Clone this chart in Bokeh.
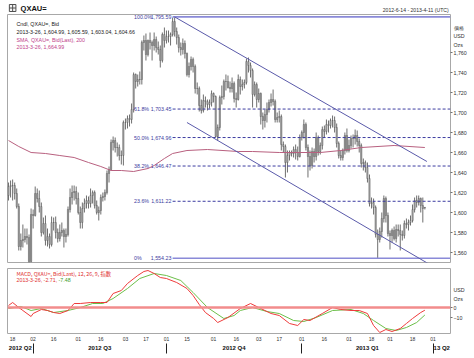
import pandas as pd
from bokeh.plotting import figure
from bokeh.layouts import column
from bokeh.models import (Range1d, FixedTicker, NumeralTickFormatter, Label,
                          Span, LinearAxis, ColumnDataSource)
from bokeh.core.properties import value
from bokeh.embed import file_html
from bokeh.resources import INLINE

FONT = "Liberation Sans"
CJK = "Noto Sans CJK TC"

# ------------------------------------------------------------------ data
first_day, last_day = "2012-06-14", "2013-04-11"

opens = [1617,1626,1627,1627,1619,1606,1566,1572,1573,1576,1575,1551,1598,1597,1619,1614,1606,1580,1589,1572,
         1576,1568,1590,1590,1580,1574,1580,1582,1576,1578,1603,1615,1620,1621,1614,1600,1590,1604,1609,1612,
         1609,1617,1620,1607,1600,1602,1615,1616,1620,1639,1643,1670,1672,1665,1665,1657,1657,1690,1690,1694,
         1693,1703,1738,1731,1733,1733,1770,1772,1758,1772,1770,1767,1773,1765,1763,1752,1778,1772,1776,1776,
         1778,1791,1781,1775,1765,1763,1769,1759,1738,1746,1753,1746,1724,1724,1707,1702,1712,1711,1708,1710,
         1719,1716,1676,1685,1715,1716,1731,1731,1725,1724,1729,1714,1713,1733,1726,1728,1730,1751,1747,1742,
         1718,1728,1713,1719,1696,1692,1698,1703,1710,1713,1711,1693,1695,1696,1668,1666,1650,1657,1660,1659,
         1663,1660,1656,1675,1680,1688,1665,1656,1647,1661,1656,1675,1661,1667,1683,1681,1688,1687,1692,1692,
         1685,1669,1657,1655,1662,1677,1662,1667,1674,1674,1677,1671,1667,1649,1650,1645,1634,1609,1610,1605,
         1578,1573,1581,1594,1614,1597,1579,1577,1582,1574,1583,1582,1578,1577,1589,1588,1590,1592,1603,1612,
         1610,1614,1607,1604.99]
highs = [1630,1632,1633,1630,1624,1609,1579,1588,1584,1584,1578,1604,1603,1626,1624,1622,1610,1595,1597,1584,
         1579,1596,1595,1596,1584,1588,1590,1584,1584,1606,1624,1627,1627,1626,1620,1606,1610,1614,1617,1616,
         1624,1622,1622,1612,1606,1618,1620,1623,1642,1646,1673,1676,1675,1670,1668,1662,1692,1694,1697,1698,
         1709,1740,1739,1738,1741,1772,1777,1779,1773,1780,1772,1780,1776,1771,1767,1780,1785,1782,1782,1780,
         1795,1796,1785,1778,1770,1774,1772,1760,1750,1756,1755,1748,1730,1726,1713,1718,1716,1713,1713,1722,
         1720,1717,1688,1717,1727,1733,1738,1737,1731,1735,1731,1720,1738,1736,1733,1733,1754,1755,1750,1744,
         1731,1730,1724,1720,1700,1703,1710,1713,1719,1723,1713,1700,1702,1698,1671,1668,1662,1662,1662,1666,
         1668,1666,1678,1682,1693,1690,1668,1662,1665,1664,1680,1677,1670,1686,1687,1693,1692,1694,1697,1696,
         1689,1671,1662,1664,1680,1684,1673,1677,1678,1683,1682,1674,1669,1654,1652,1650,1638,1615,1614,1607,
         1583,1585,1600,1617,1616,1600,1582,1584,1586,1588,1588,1588,1582,1592,1594,1593,1597,1608,1615,1617,
         1617,1615,1615,1605.59]
lows = [1612,1615,1612,1613,1604,1562,1562,1565,1570,1568,1548,1550,1584,1596,1610,1600,1576,1578,1567,1566,
        1564,1566,1582,1574,1570,1571,1576,1565,1570,1576,1600,1608,1612,1608,1598,1584,1584,1600,1604,1604,
        1605,1609,1604,1598,1592,1598,1611,1612,1618,1630,1642,1662,1660,1656,1652,1648,1647,1683,1684,1686,
        1689,1700,1724,1726,1728,1728,1762,1752,1756,1763,1752,1762,1760,1758,1745,1750,1765,1769,1770,1767,
        1776,1776,1768,1760,1757,1758,1754,1736,1735,1742,1740,1719,1718,1701,1699,1700,1705,1702,1704,1706,
        1710,1675,1672,1682,1708,1713,1722,1724,1720,1720,1710,1705,1712,1718,1722,1724,1728,1740,1735,1705,
        1716,1705,1710,1688,1683,1685,1690,1700,1706,1707,1690,1690,1690,1662,1660,1635,1640,1652,1656,1655,
        1653,1652,1655,1672,1674,1662,1635,1642,1644,1650,1652,1657,1658,1663,1675,1678,1680,1684,1685,1680,
        1665,1654,1652,1652,1658,1660,1660,1664,1665,1668,1666,1660,1645,1642,1640,1630,1606,1604,1598,1575,
        1554,1570,1575,1590,1590,1576,1563,1570,1572,1570,1576,1562,1572,1574,1584,1582,1587,1590,1600,1605,
        1607,1600,1590,1603.04]
closes = [1626,1627,1627,1619,1606,1566,1572,1573,1576,1575,1551,1598,1597,1619,1614,1606,1580,1589,1572,1576,
          1568,1590,1590,1580,1574,1580,1582,1576,1578,1603,1615,1620,1621,1614,1600,1590,1604,1609,1612,1609,
          1617,1620,1607,1600,1602,1615,1616,1620,1639,1643,1670,1672,1665,1665,1657,1657,1690,1690,1694,1693,
          1703,1738,1731,1733,1733,1770,1772,1758,1772,1770,1767,1773,1765,1763,1752,1778,1772,1776,1776,1778,
          1791,1781,1775,1765,1763,1769,1759,1738,1746,1753,1746,1724,1724,1707,1702,1712,1711,1708,1710,1719,
          1716,1676,1685,1715,1716,1731,1731,1725,1724,1729,1714,1713,1733,1726,1728,1730,1751,1747,1742,1718,
          1728,1713,1719,1696,1692,1698,1703,1710,1713,1711,1693,1695,1696,1668,1666,1650,1657,1660,1659,1663,
          1660,1656,1675,1680,1688,1665,1656,1647,1661,1656,1675,1661,1667,1683,1681,1688,1687,1692,1692,1685,
          1669,1657,1655,1662,1677,1662,1667,1674,1674,1677,1671,1667,1649,1650,1645,1634,1609,1610,1605,1578,
          1573,1581,1594,1614,1597,1579,1577,1582,1574,1583,1582,1578,1577,1589,1588,1590,1592,1603,1612,1610,
          1614,1607,1604,1604.66]

# 200-day SMA (trading-day number, value)
sma_day = [0, 5, 11, 18, 25, 32, 39, 45, 50, 55, 61, 68, 71, 76, 80, 87, 97, 112, 119, 132, 152, 162, 172, 188, 203]
sma_val = [1672, 1666, 1660, 1659, 1657, 1655, 1650, 1646, 1642, 1642, 1641, 1644, 1647, 1654, 1659, 1662, 1663,
           1661, 1661, 1660, 1660, 1662, 1665, 1667, 1664.99]

# MACD (12, 26, 9)
macd_day = [0, 2, 5, 7, 11, 12, 16, 19, 22, 25, 29, 32, 35, 40, 45, 48, 51, 55, 58, 63, 66, 68, 71, 74, 77, 82,
            87, 90, 93, 96, 100, 102, 107, 113, 118, 123, 128, 132, 137, 141, 144, 147, 153, 158, 162, 167, 171,
            175, 178, 181, 184, 187, 191, 194, 197, 201, 203]
macd_val = [2, 5, 0, -3, -9, -6, -2, -3, -5, -6, -3, 4, 4, 5, 5, 5, 14, 17, 24, 32, 36, 37, 34, 30, 29, 25,
            19, 12, 3, -5, -11, -15, -10, -1, 4, -1, -6, -8, -16, -18, -12, -13, -6, 0, -2, -3, -3,
            -6, -18, -25, -22, -24, -21, -16, -11, -5, -2.71]
signal_day = [0, 6, 11, 16, 22, 29, 35, 41, 46, 51, 58, 64, 71, 77, 84, 90, 97, 105, 110, 113, 119, 126, 132,
              139, 144, 150, 158, 167, 173, 178, 184, 189, 194, 199, 203]
signal_val = [-1, 1, -3, -1, -5, -3, 0, 4, 4, 9, 19, 29, 34, 32, 27, 15, 0, -11, -8, -3, 0, -4, -6,
              -13, -14, -10, -3, -2, -6, -13, -21, -23, -20, -15, -7.48]

# Fibonacci retracement (drawn from the 2012-10-05 high to the 2013-02-21 low)
fib_pct = ["100.0%", "61.8%", "50.0%", "38.2%", "23.6%", "0%"]
fib_val = [1795.59, 1703.45, 1674.96, 1646.47, 1611.22, 1554.23]
fib_start = "2012-10-04"

# trend channel
chan_up_days = ["2012-10-05", "2013-03-27"]
chan_up_vals = [1795.59, 1651.0]
chan_lo_days = ["2012-10-15", "2013-03-28"]
chan_lo_vals = [1690.0, 1548.5]

price_ticks = [1560, 1580, 1600, 1620, 1640, 1660, 1680, 1700, 1720, 1740, 1760]
macd_ticks = [0, -10]
unit_labels = ["價格", "USD", "Ozs"]

day_tick_dates = ["2012-06-18", "2012-07-02", "2012-07-16", "2012-08-01", "2012-08-16", "2012-09-03",
                  "2012-09-17", "2012-10-01", "2012-10-15", "2012-11-01", "2012-11-16", "2012-12-03",
                  "2012-12-17", "2013-01-01", "2013-01-16", "2013-02-01", "2013-02-18", "2013-03-01",
                  "2013-03-18", "2013-04-01"]
quarter_starts = ["2012-07-02", "2012-10-01", "2013-01-01", "2013-04-01"]
quarter_names = ["2012 Q2", "2012 Q3", "2012 Q4", "2013 Q1", "13 Q2"]

# ------------------------------------------------------------------ helpers
days = pd.bdate_range(first_day, last_day)
day_no = {d.strftime("%Y-%m-%d"): i for i, d in enumerate(days)}
n_days = len(days)
bars = list(range(len(closes)))

x_range = Range1d(-0.5, n_days - 0.5)

W = 474
SMALL = "5.3px"
FIB_COL = "#3c3ca0"
LEFT, RIGHT = 7, 24


def lab(p, x, y, text, color="#202020", size=SMALL, align="left", style="normal", font=FONT, base="middle"):
    p.add_layout(Label(x=x, y=y, text=text, text_color=color, text_font_size=size, text_align=align,
                       text_font_style=style, text_font=font, text_baseline=base))


def style_right_axis(ax, ticks, marks, extra):
    ax.ticker = FixedTicker(ticks=sorted(ticks + list(extra.keys())), minor_ticks=marks)
    ax.major_label_overrides = dict(extra)
    ax.axis_line_color = None
    ax.major_tick_out = 0
    ax.major_tick_in = 0
    ax.major_tick_line_color = None
    ax.minor_tick_out = 2
    ax.minor_tick_in = 0
    ax.minor_tick_line_color = "#707070"
    ax.major_label_standoff = 1
    ax.major_label_text_font = FONT
    ax.major_label_text_font_size = SMALL
    ax.major_label_text_color = "#303030"


# ------------------------------------------------------------------ header strip
HEAD = 14
h0 = figure(width=W, height=HEAD, x_range=Range1d(0, W), y_range=Range1d(HEAD, 0),
            x_axis_location=None, y_axis_location=None, output_backend="svg", toolbar_location=None,
            min_border=0, outline_line_color=None)
h0.grid.visible = False
h0.quad(left=[2], right=[9], top=[4], bottom=[11], fill_color="#f4f4f4", line_color="#505050", line_width=1)
h0.segment(x0=[2, 5.5], y0=[7.5, 4], x1=[9, 5.5], y1=[7.5, 11], line_color="#505050", line_width=1)
h0.text(x=[14], y=[7.5], text=["QXAU="], text_font=value(FONT), text_font_size="7.5px",
        text_font_style="bold", text_baseline="middle", text_color="#101010")
date_text = (f"{days[0].year}-{days[0].month}-{days[0].day} - "
             f"{days[-1].year}-{days[-1].month}-{days[-1].day} (UTC)")
h0.text(x=[472], y=[9], text=[date_text], text_font=value(FONT), text_font_size="5.1px",
        text_align="right", text_baseline="middle", text_color="#303030")

# ------------------------------------------------------------------ price panel
P1_H = 248
price_range = Range1d(1550, 1798)
p1 = figure(width=W, height=P1_H + 3, x_range=x_range, y_range=price_range,
            x_axis_location=None, y_axis_location="right", output_backend="svg", toolbar_location=None,
            min_border_left=LEFT, min_border_right=RIGHT, min_border_top=0, min_border_bottom=3)
p1.grid.visible = False
p1.outline_line_color = "#a8a8a8"


def price_at_row(row):
    """price value that sits at a given pixel row below the frame top"""
    return price_range.end - row * (price_range.end - price_range.start) / P1_H


style_right_axis(p1.yaxis[0], price_ticks, price_ticks,
                 {price_at_row(r): t for r, t in zip([13, 21, 30], unit_labels)})
p1.yaxis[0].formatter = NumeralTickFormatter(format="0,0")

src = ColumnDataSource(dict(
    x=bars, o=opens, h=highs, l=lows, c=closes,
    top=[max(a, b) for a, b in zip(opens, closes)],
    bot=[min(a, b) for a, b in zip(opens, closes)]))
p1.segment(x0="x", y0="l", x1="x", y1="h", source=src, line_color="#6e6e6e", line_width=1)
p1.vbar(x="x", top="top", bottom="bot", width=0.6, source=src, fill_color="#ababab",
        line_color="#5c5c5c", line_width=0.5)

p1.line(sma_day, sma_val, line_color="#b8607f", line_width=1)

fx0 = day_no[fib_start]
for pct, v in zip(fib_pct, fib_val):
    solid = pct in ("100.0%", "0%")
    p1.segment(x0=[fx0], y0=[v], x1=[n_days - 0.5], y1=[v],
               line_color="#8a8ad8" if solid else FIB_COL,
               line_width=1.6 if solid else 1, line_dash="solid" if solid else "3 2")
    lab(p1, fx0 - 18.8, v, pct, color=FIB_COL)
    lab(p1, fx0 - 0.6, v, f"{v:,.2f}", color=FIB_COL, align="right")

p1.line([day_no[d] for d in chan_up_days], chan_up_vals, line_color="#5a5aaa", line_width=1)
p1.line([day_no[d] for d in chan_lo_days], chan_lo_vals, line_color="#5a5aaa", line_width=1)

o_, h_, l_, c_ = opens[-1], highs[-1], lows[-1], closes[-1]
lab(p1, 3.9, 1789, "Cndl, QXAU=, Bid")
lab(p1, 3.9, 1781, f"2013-3-26, {o_:,.2f}, {h_:,.2f}, {l_:,.2f}, {c_:,.2f}")
lab(p1, 3.9, 1773, "SMA, QXAU=, Bid(Last), 200", color="#c0408a")
lab(p1, 3.9, 1766, f"2013-3-26, {sma_val[-1]:,.2f}", color="#c0408a")

# ------------------------------------------------------------------ MACD panel
P2_H = 65
macd_range = Range1d(-26, 39)
p2 = figure(width=W, height=P2_H + 3 + 22, x_range=x_range, y_range=macd_range,
            x_axis_location="below", y_axis_location="right", output_backend="svg", toolbar_location=None,
            min_border_left=LEFT, min_border_right=RIGHT, min_border_top=3, min_border_bottom=22)
p2.grid.visible = False
p2.outline_line_color = "#a8a8a8"


def macd_at_row(row):
    return macd_range.end - row * (macd_range.end - macd_range.start) / P2_H


style_right_axis(p2.yaxis[0], macd_ticks, macd_ticks,
                 {macd_at_row(r): t for r, t in zip([21, 30], unit_labels[1:])})

p2.add_layout(Span(location=0, dimension="width", line_color="#f28c8c", line_width=2.5))
p2.line(signal_day, signal_val, line_color="#6cbf4a", line_width=1)
p2.line(macd_day, macd_val, line_color="#ee3b3b", line_width=1)

lab(p2, 3.9, 34, "MACD, QXAU=, Bid(Last), 12, 26, 9, 指數", color="#e03030", font=CJK)
lab(p2, 3.9, 28, f"2013-3-26, {macd_val[-1]:.2f},", color="#e03030")
lab(p2, 24.4, 28, f"{signal_val[-1]:.2f}", color="#3a9a2a")

# date axis
dx = p2.xaxis[0]
day_ticks = [day_no[d] for d in day_tick_dates]
dx.ticker = FixedTicker(ticks=day_ticks, minor_ticks=[])
dx.major_label_overrides = {t: d[-2:] for t, d in zip(day_ticks, day_tick_dates)}
dx.axis_line_color = None
dx.major_tick_line_color = None
dx.major_tick_out = 0
dx.major_tick_in = 0
dx.major_label_standoff = 3
dx.major_label_text_font = FONT
dx.major_label_text_font_size = "5px"
dx.major_label_text_color = "#303030"

edges = [-0.5] + [day_no[d] for d in quarter_starts] + [n_days - 0.5]
q_mid = [(a + b) / 2 for a, b in zip(edges[:-1], edges[1:])]
qa = LinearAxis(ticker=FixedTicker(ticks=q_mid, minor_ticks=[day_no[d] for d in quarter_starts]))
qa.major_label_overrides = {m: n for m, n in zip(q_mid, quarter_names)}
qa.axis_line_color = None
qa.major_tick_line_color = None
qa.major_tick_out = 0
qa.major_tick_in = 0
qa.minor_tick_in = 0
qa.minor_tick_out = 10
qa.minor_tick_line_color = "#202020"
qa.major_label_standoff = -9
qa.major_label_text_font = FONT
qa.major_label_text_font_style = "bold"
qa.major_label_text_font_size = "6px"
qa.major_label_text_color = "#101010"
p2.add_layout(qa, "below")

# ------------------------------------------------------------------ footer strip (status bar)
f0 = figure(width=W, height=3, x_range=Range1d(0, W), y_range=Range1d(0, 3),
            x_axis_location=None, y_axis_location=None, output_backend="svg", toolbar_location=None,
            min_border=0, outline_line_color=None)
f0.grid.visible = False
f0.quad(left=[0, 43], right=[43, W], bottom=[0, 0], top=[3, 3], fill_color=["#4aa84a", "#3d7fd6"],
        line_color=None)

layout = column(h0, p1, p2, f0, spacing=0)
open("out.html", "w").write(file_html(layout, INLINE))
